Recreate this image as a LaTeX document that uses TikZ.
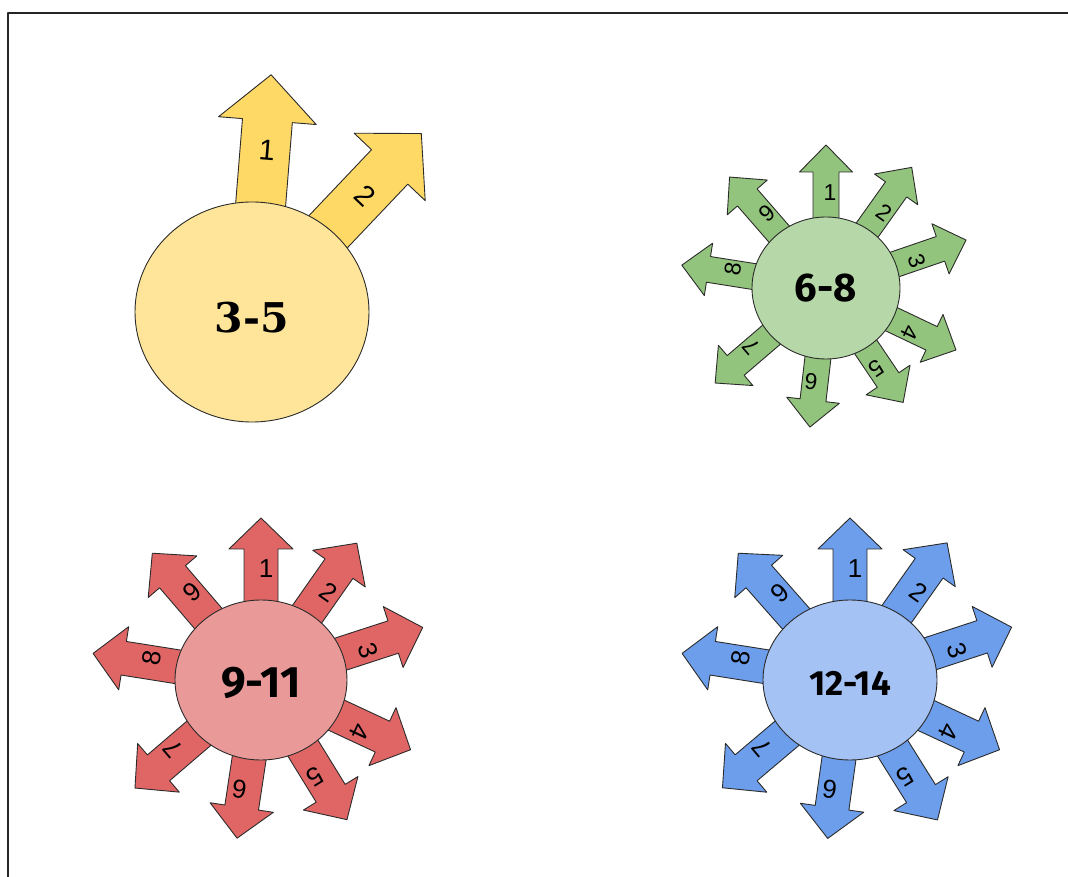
\documentclass[tikz,border=0pt]{standalone}
\usepackage{fontspec}
\usetikzlibrary{shapes.geometric}
\newfontfamily\labfont{Liberation Sans}
\newfontfamily\midfont{Fira Sans}
\newfontfamily\slabfont{DejaVu Serif}
\definecolor{yArr}{HTML}{FFD966}
\definecolor{yCirc}{HTML}{FFE599}
\definecolor{gArr}{HTML}{93C47D}
\definecolor{gCirc}{HTML}{B6D7A8}
\definecolor{rArr}{HTML}{E06666}
\definecolor{rCirc}{HTML}{EA9999}
\definecolor{bArr}{HTML}{6D9EEB}
\definecolor{bCirc}{HTML}{A4C2F4}
\definecolor{edge}{HTML}{2B2B2B}
% #1 angle, #2 tip distance, #3 label
\newcommand\rayshape[3]{%
  \begin{scope}[rotate=#1]
    \draw[arr] (\rzero,-\sw) -- ({#2-\hl},-\sw) -- ({#2-\hl},-\hw) -- (#2,0)
      -- ({#2-\hl},\hw) -- ({#2-\hl},\sw) -- (\rzero,\sw) -- cycle;
    \node[lab, rotate=#1-90] (\pre#3) at (\ldist,\loff) {#3};
  \end{scope}%
}
\newcommand\lowered[2]{\raisebox{-#1}[\height][\depth]{#2}}
\tikzset{
  hub/.style={ellipse, draw=edge, line width=0.9pt, inner sep=0pt},
}
\begin{document}
\begin{tikzpicture}[x=1pt,y=1pt,line join=round]
\useasboundingbox (0,0) rectangle (1068,876);
\draw[line width=2pt, color=black!85] (8,-3) -- (8,863) -- (1071,863);

% yellow
\begin{scope}[shift={(252,564)}]
  \def\sw{25}\def\hw{49}\def\hl{46}\def\rzero{50}\def\ldist{162}\def\loff{-2}\def\pre{y}
  \tikzset{arr/.style={draw=edge, line width=0.9pt, fill=yArr},
           lab/.style={font=\labfont\fontsize{29}{29}\selectfont}}
  \rayshape{85.4}{238}{1}
  \rayshape{46.5}{246}{2}
  \node[hub, fill=yCirc, minimum width=234, minimum height=220,
        font=\slabfont\bfseries\fontsize{41}{41}\selectfont] (c35) at (0,0) {\lowered{6pt}{3-5}};
\end{scope}

% green
\begin{scope}[shift={(826,588)}]
  \def\sw{13}\def\hw{26.5}\def\hl{27}\def\rzero{40}\def\ldist{95}\def\loff{-4}\def\pre{g}
  \tikzset{arr/.style={draw=edge, line width=0.9pt, fill=gArr},
           lab/.style={font=\labfont\fontsize{23}{23}\selectfont}}
  \rayshape{90}{143}{1}
  \rayshape{54.6}{148}{2}
  \rayshape{18.9}{148}{3}
  \rayshape{-25.5}{144}{4}
  \rayshape{-56}{138}{5}
  \rayshape{-96.6}{140}{6}
  \rayshape{-139.4}{146}{7}
  \rayshape{171}{146}{8}
  \rayshape{131}{147}{9}
  \node[hub, fill=gCirc, minimum width=148, minimum height=142,
        font=\midfont\bfseries\fontsize{40}{40}\selectfont] (c68) at (0,0) {6-8};
\end{scope}

% red
\begin{scope}[shift={(261,196)}]
  \def\sw{17}\def\hw{32}\def\hl{31}\def\rzero{45}\def\ldist{111}\def\loff{-5}\def\pre{r}
  \tikzset{arr/.style={draw=edge, line width=0.9pt, fill=rArr},
           lab/.style={font=\labfont\fontsize{26}{26}\selectfont}}
  \rayshape{90}{162}{1}
  \rayshape{55}{167}{2}
  \rayshape{18}{170}{3}
  \rayshape{-25}{165}{4}
  \rayshape{-58.4}{164}{5}
  \rayshape{-98.6}{160}{6}
  \rayshape{-139.4}{166}{7}
  \rayshape{171}{170}{8}
  \rayshape{130.6}{167}{9}
  \node[hub, fill=rCirc, minimum width=172, minimum height=160,
        font=\midfont\bfseries\fontsize{44}{44}\selectfont] (c911) at (0,0) {\lowered{3pt}{9-11}};
\end{scope}

% blue
\begin{scope}[shift={(850,196)}]
  \def\sw{17}\def\hw{32}\def\hl{31}\def\rzero{45}\def\ldist{111}\def\loff{-5}\def\pre{b}
  \tikzset{arr/.style={draw=edge, line width=0.9pt, fill=bArr},
           lab/.style={font=\labfont\fontsize{26}{26}\selectfont}}
  \rayshape{90}{162}{1}
  \rayshape{54.7}{168}{2}
  \rayshape{18.1}{170}{3}
  \rayshape{-25}{165}{4}
  \rayshape{-58}{165}{5}
  \rayshape{-98}{160}{6}
  \rayshape{-139.8}{167}{7}
  \rayshape{171}{170}{8}
  \rayshape{131.4}{169}{9}
  \node[hub, fill=bCirc, minimum width=174, minimum height=160,
        font=\midfont\bfseries\fontsize{35}{35}\selectfont] (c1214) at (0,0) {\lowered{3pt}{12-14}};
\end{scope}
\end{tikzpicture}
\end{document}
